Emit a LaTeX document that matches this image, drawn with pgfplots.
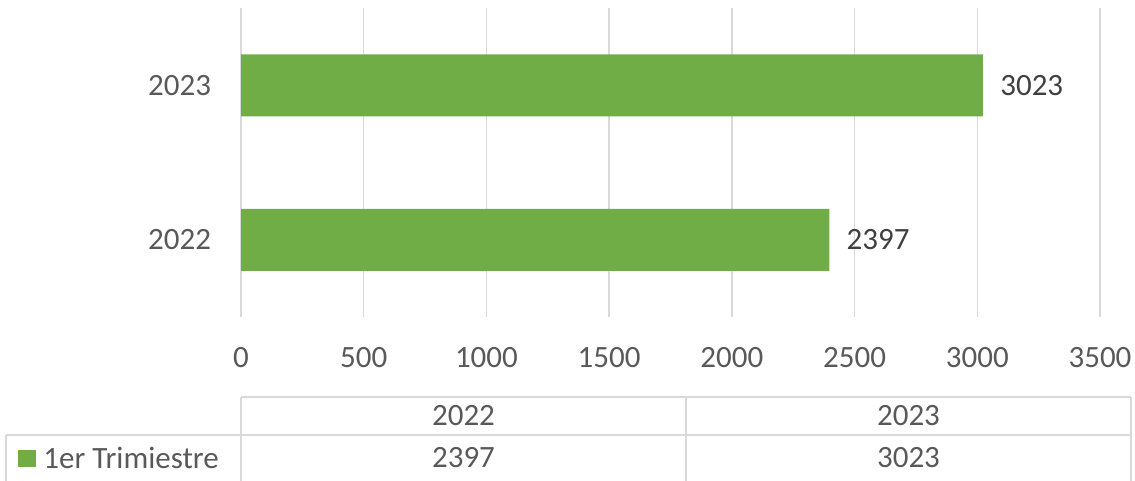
\documentclass[border=0pt]{standalone}
\usepackage{fontspec}
\setmainfont{Carlito}
\usepackage{pgfplots}
\pgfplotsset{compat=1.18}
\definecolor{bargreen}{HTML}{70AD47}
\definecolor{gridgray}{HTML}{D9D9D9}
\definecolor{txtgray}{HTML}{595959}
\definecolor{lblgray}{HTML}{404040}
\begin{document}
\begin{tikzpicture}
\path[use as bounding box] (0,0) rectangle (567.5pt,-240.5pt);
\begin{axis}[
  at={(120.5pt,-158.5pt)}, anchor=south west,
  scale only axis, width=429.5pt, height=154.5pt,
  xbar, bar width=31pt,
  xmin=0, xmax=3500, ymin=-0.5, ymax=1.5,
  xtick={0,500,1000,1500,2000,2500,3000,3500},
  ytick={0,1}, yticklabels={2022,2023},
  axis line style={draw=none},
  major tick style={draw=none},
  xmajorgrids, grid style={gridgray, line width=0.75pt},
  scaled x ticks=false,
  /pgf/number format/assume math mode=true,
  /pgf/number format/1000 sep={},
  tick label style={font=\fontsize{15.5}{18}\selectfont, text=txtgray},
  xticklabel style={anchor=center, inner sep=0pt, yshift=-20.5pt},
  yticklabel style={anchor=east, inner sep=0pt, xshift=-10.5pt},
  nodes near coords,
  nodes near coords style={font=\fontsize{15.5}{18}\selectfont, text=lblgray, anchor=west, inner sep=0pt, xshift=8.5pt,
    /pgf/number format/1000 sep={}},
]
\addplot[fill=bargreen, draw=none] coordinates {(2397,0) (3023,1)};
\end{axis}
\begin{scope}[x=0.5pt, y=-0.5pt]
\draw[gridgray, line width=0.75pt] (241,397)--(1131,397);
\draw[gridgray, line width=0.75pt] (6,435)--(1131,435);
\draw[gridgray, line width=0.75pt] (6,435)--(6,481);
\draw[gridgray, line width=0.75pt] (241,397)--(241,481);
\draw[gridgray, line width=0.75pt] (686,397)--(686,481);
\draw[gridgray, line width=0.75pt] (1131,397)--(1131,481);
\begin{scope}[every node/.style={font=\fontsize{15.5}{18}\selectfont, text=txtgray, inner sep=0pt}]
\node at (463.5,416) {2022};
\node at (908.5,416) {2023};
\node at (463.5,458) {2397};
\node at (908.5,458) {3023};
\fill[bargreen] (18,450) rectangle (36,467);
\node[anchor=west] at (43,458) {1er Trimiestre};
\end{scope}
\end{scope}
\end{tikzpicture}
\end{document}
